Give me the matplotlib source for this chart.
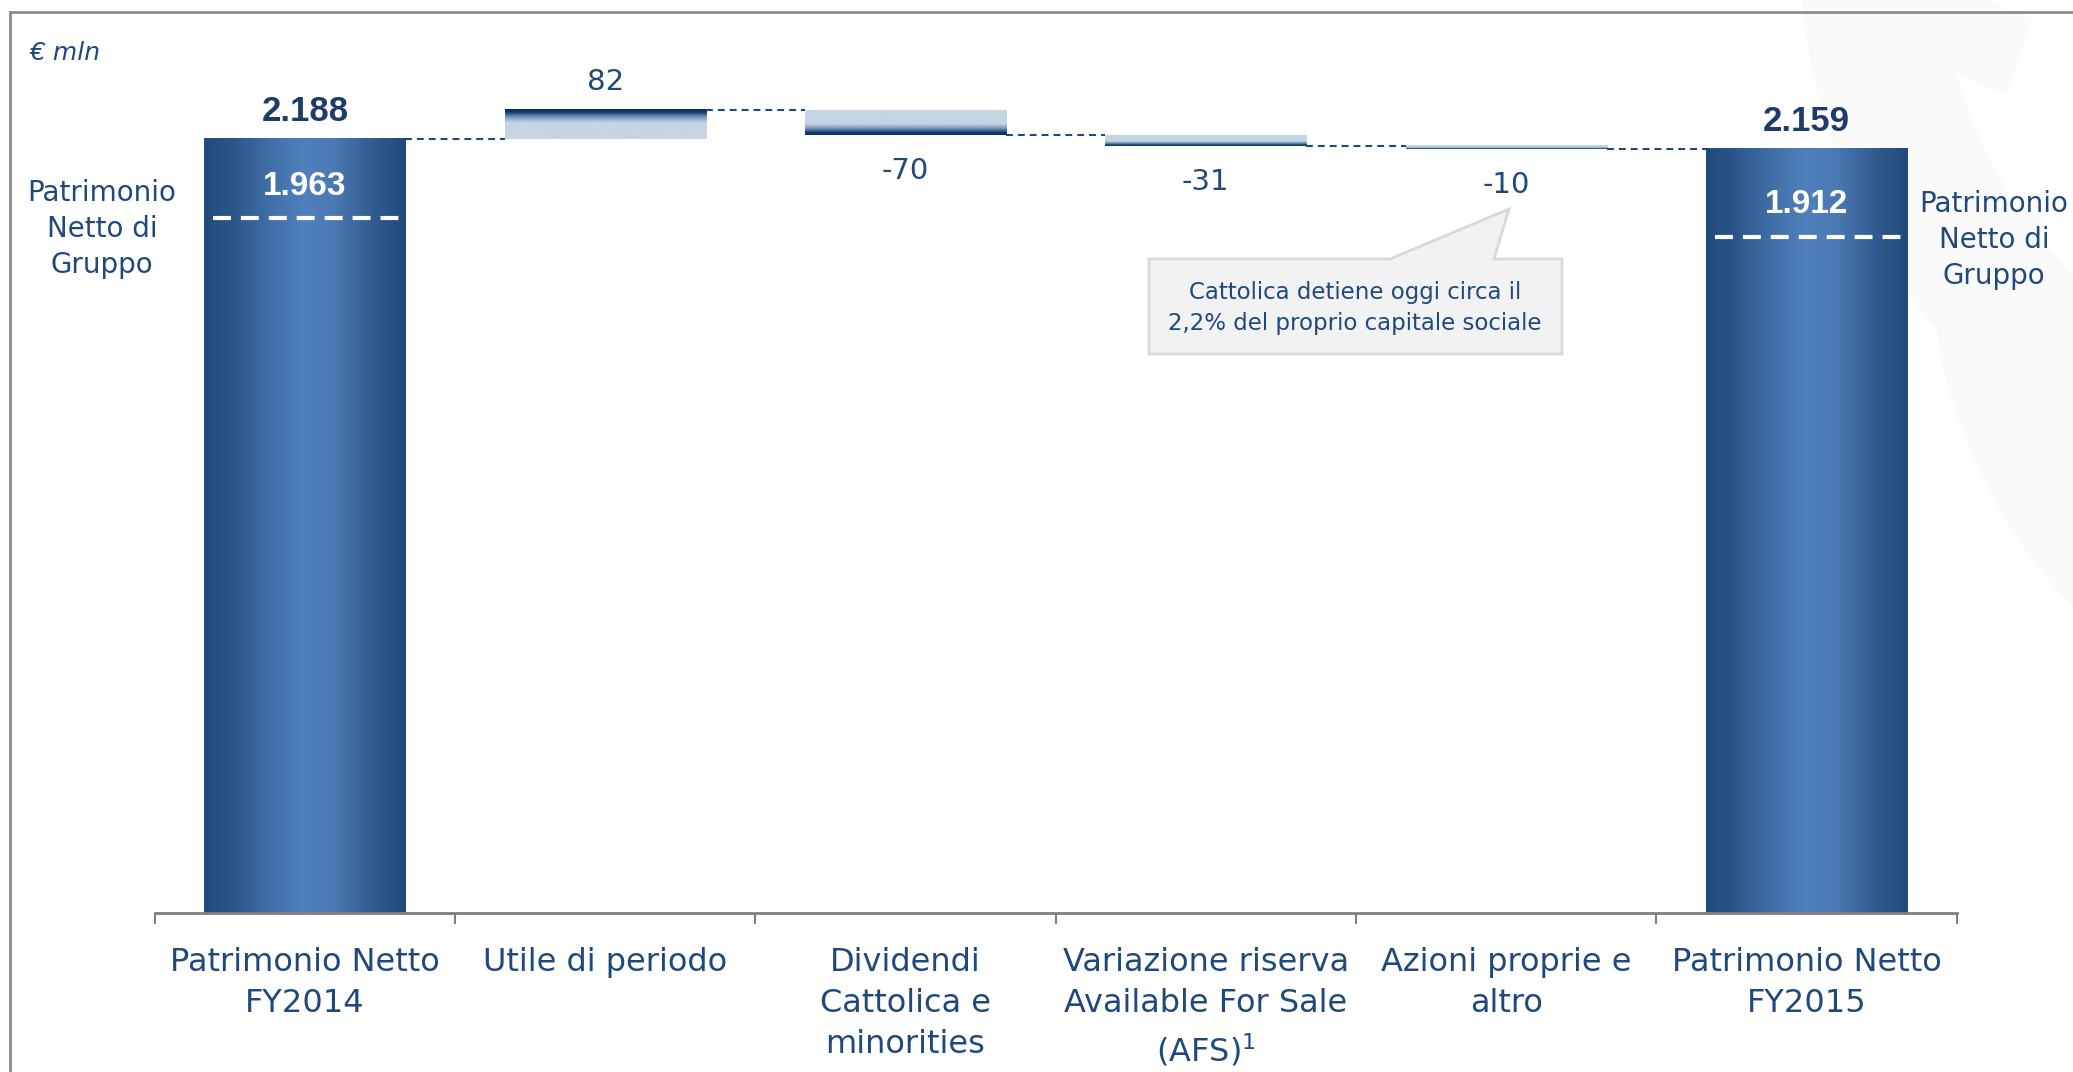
import numpy as np
import matplotlib.pyplot as plt
from matplotlib.colors import LinearSegmentedColormap
from matplotlib.patches import Polygon, Wedge

# data
categories = ["Patrimonio Netto\nFY2014", "Utile di periodo", "Dividendi\nCattolica e\nminorities",
              "Variazione riserva\nAvailable For Sale\n(AFS)$^{1}$", "Azioni proprie e\naltro",
              "Patrimonio Netto\nFY2015"]
start_total = 2188
end_total = 2159
changes = [82, -70, -31, -10]
group_equity = [1963, 1912]
total_labels = ["2.188", "2.159"]
group_labels = ["1.963", "1.912"]
change_labels = ["82", "-70", "-31", "-10"]
callout_text = "Cattolica detiene oggi circa il\n2,2% del proprio capitale sociale"

NAVY = "#1f497d"
DARKNAVY = "#1d3c6a"
W = 0.67

plt.rcParams['font.family'] = ['DejaVu Sans']

fig = plt.figure(figsize=(20.73, 10.72), dpi=100)

# background layer in pixel coords (frame, watermark, callout, side notes)
bg = fig.add_axes([0, 0, 1, 1], zorder=0)
bg.set_xlim(0, 2073)
bg.set_ylim(1072, 0)
bg.axis('off')
for c, r, w, t1, t2 in [((2400, -50), 600, 140, 120, 178),
                        ((2450, 250), 520, 110, 130, 185),
                        ((2150, -300), 420, 80, 110, 160)]:
    bg.add_patch(Wedge(c, r, t1, t2, width=w, facecolor="#fafafa", edgecolor="none"))
bg.plot([10, 10], [1072, 12], color="#8c8c8c", lw=2)
bg.plot([10, 2073], [12, 12], color="#8c8c8c", lw=2)
bg.text(29, 53, "€ mln", style='italic', fontsize=18, color=NAVY, ha='left', va='center')
bg.text(102, 229, "Patrimonio\nNetto di\nGruppo", fontsize=20, color=NAVY, ha='center', va='center',
        linespacing=1.35)
bg.text(1994, 240, "Patrimonio\nNetto di\nGruppo", fontsize=20, color=NAVY, ha='center', va='center',
        linespacing=1.35)
bg.add_patch(Polygon([(1149, 259), (1390, 259), (1509, 209), (1494, 259), (1562, 259),
                      (1562, 354), (1149, 354)], closed=True, facecolor="#f2f2f2",
                     edgecolor="#d9d9d9", lw=2))
bg.text(1355, 308, callout_text, fontsize=16.5, color=NAVY, ha='center', va='center', linespacing=1.4)

ax = fig.add_axes([0.0746, 0.1479, 0.8693, 0.8521], zorder=1)
ax.patch.set_alpha(0)

x = np.arange(len(categories))
levels = start_total + np.cumsum(changes)
prev = np.concatenate([[start_total], levels[:-1]])
bottoms = np.where(np.array(changes) > 0, prev, levels)
heights = np.abs(changes)

tot_bars = ax.bar([x[0], x[-1]], [start_total, end_total], width=W, color='none')
chg_bars = ax.bar(x[1:-1], heights, bottom=bottoms, width=W, color='none')

cmap_tot = LinearSegmentedColormap.from_list("tot", [(0, "#214a7c"), (0.12, "#2a5387"), (0.35, "#4372ab"),
                                                    (0.5, "#5081bc"), (0.65, "#4a78b2"),
                                                    (0.88, "#2d5689"), (1, "#214a7c")])
cmap_chg = LinearSegmentedColormap.from_list("chg", [(0, "#05305f"), (0.1, "#0f3a6a"), (0.25, "#6e8fb2"),
                                                    (0.45, "#c5d5e4"), (1, "#c5d5e4")])
hgrad = np.linspace(0, 1, 256).reshape(1, -1)
vgrad = np.linspace(0, 1, 256).reshape(-1, 1)

for b in tot_bars:
    ax.imshow(hgrad, cmap=cmap_tot, aspect='auto', interpolation='bicubic', zorder=2,
              extent=(b.get_x(), b.get_x() + b.get_width(), b.get_y(), b.get_y() + b.get_height()))
for b, ch in zip(chg_bars, changes):
    g = 1 - vgrad if ch > 0 else vgrad
    ax.imshow(g, cmap=cmap_chg, aspect='auto', origin='lower', interpolation='bicubic', zorder=2,
              extent=(b.get_x(), b.get_x() + b.get_width(), b.get_y(), b.get_y() + b.get_height()))

# connectors
running = np.concatenate([[start_total], levels])
for i in range(len(x) - 1):
    ax.plot([x[i] + W / 2, x[i + 1] - W / 2], [running[i], running[i]], color=NAVY, lw=1.5,
            ls=(0, (3.3, 2.4)), zorder=3)

# group equity dashed lines and labels
for xi, ge, lab in zip([x[0], x[-1]], group_equity, group_labels):
    ax.plot([xi - W / 2 + 0.03, xi + W / 2], [ge, ge], color='white', lw=3, ls=(0, (4.3, 2.4)), zorder=4)
    ax.annotate(lab, (xi, ge), xytext=(0, 12), textcoords='offset points', ha='center', va='bottom',
                fontsize=24, fontweight='bold', color='white', family='Liberation Sans', zorder=5)

for xi, tot, lab in zip([x[0], x[-1]], [start_total, end_total], total_labels):
    ax.annotate(lab, (xi, tot), xytext=(0, 8), textcoords='offset points', ha='center', va='bottom',
                fontsize=25, fontweight='bold', color=DARKNAVY, family='Liberation Sans')

for xi, ch, lab, lv, pv in zip(x[1:-1], changes, change_labels, levels, prev):
    if ch > 0:
        ax.annotate(lab, (xi, lv), xytext=(0, 10), textcoords='offset points', ha='center',
                    va='bottom', fontsize=21, color=NAVY)
    else:
        ax.annotate(lab, (xi, lv), xytext=(0, -16), textcoords='offset points', ha='center',
                    va='top', fontsize=21, color=NAVY)

ax.set_xlim(-0.5, len(categories) - 0.5)
ax.set_ylim(0, 2580)
ax.set_yticks([])
for s in ['top', 'right', 'left']:
    ax.spines[s].set_visible(False)
ax.spines['bottom'].set_color('#7f7f7f')
ax.spines['bottom'].set_linewidth(2)
ax.set_xticks(x)
ax.set_xticklabels(categories)
ax.set_xticks(np.arange(-0.5, len(categories), 1), minor=True)
ax.tick_params(axis='x', which='major', length=0, pad=24, labelsize=23, labelcolor=NAVY)
ax.tick_params(axis='x', which='minor', length=8, width=1.5, color='#7f7f7f', direction='out')
for lbl in ax.get_xticklabels():
    lbl.set_linespacing(1.42)

fig.savefig("out.png", dpi=100)
